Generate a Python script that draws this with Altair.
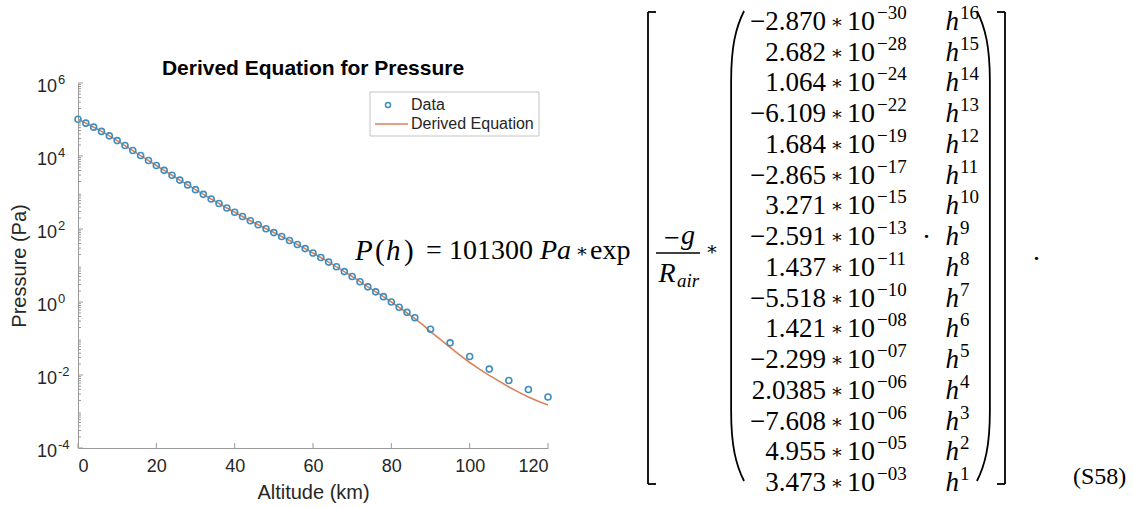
import altair as alt
import pandas as pd

# ---------------- data ----------------
altitude_km = [0, 2, 4, 6, 8, 10, 12, 14, 16, 18, 20, 22, 24, 26, 28, 30, 32, 34, 36, 38,
               40, 42, 44, 46, 48, 50, 52, 54, 56, 58, 60, 62, 64, 66, 68, 70, 72, 74, 76, 78,
               80, 82, 84, 86, 90, 95, 100, 105, 110, 115, 120]
pressure_pa = [101325, 79495, 61640, 47181, 35600, 26436, 19330, 14102, 10287, 7505,
               5475, 4047, 2972, 2188, 1616, 1197, 889, 663, 498, 377,
               287, 220, 169, 131, 102, 79.8, 62.2, 48.3, 37.5, 29.0,
               22.0, 16.6, 12.4, 9.2, 6.8, 5.0, 3.6, 2.6, 1.9, 1.4,
               1.0, 0.72, 0.52, 0.37, 0.18, 0.076, 0.032, 0.0145, 0.0071, 0.0040, 0.0025]

line_km = [0, 2, 4, 6, 8, 10, 12, 14, 16, 18, 20, 22, 24, 26, 28, 30, 32, 34, 36, 38,
           40, 42, 44, 46, 48, 50, 52, 54, 56, 58, 60, 62, 64, 66, 68, 70, 72, 74, 76, 78,
           80, 82, 84, 86, 88, 90, 92.5, 95, 97.5, 100, 102.5, 105, 107.5, 110, 112.5,
           115, 117.5, 120]
line_pa = [101325, 79495, 61640, 47181, 35600, 26436, 19330, 14102, 10287, 7505,
           5475, 4047, 2972, 2188, 1616, 1197, 889, 663, 498, 377,
           287, 220, 169, 131, 102, 79.8, 62.2, 48.3, 37.5, 29.0,
           22.0, 16.6, 12.4, 9.2, 6.8, 5.0, 3.6, 2.6, 1.9, 1.4,
           1.0, 0.71, 0.50, 0.35, 0.24, 0.155, 0.095, 0.057, 0.035, 0.022, 0.0145,
           0.0098, 0.0068, 0.0047, 0.0034, 0.0025, 0.0019, 0.0015]

x_ticks = [0, 20, 40, 60, 80, 100, 120]
y_ticks = [1e-4, 1e-2, 1, 1e2, 1e4, 1e6]
y_tick_exponents = ["-4", "-2", "0", "2", "4", "6"]
y_minor = [m * 10.0 ** k for k in range(-4, 6) for m in range(2, 10)]

coef_mantissa = ["−2.870", "2.682", "1.064", "−6.109", "1.684", "−2.865", "3.271", "−2.591",
                 "1.437", "−5.518", "1.421", "−2.299", "2.0385", "−7.608", "4.955", "3.473"]
coef_exponent = ["−30", "−28", "−24", "−22", "−19", "−17", "−15", "−13",
                 "−11", "−10", "−08", "−07", "−06", "−06", "−05", "−03"]
h_power = ["16", "15", "14", "13", "12", "11", "10", "9", "8", "7", "6", "5", "4", "3", "2", "1"]

# ---------------- layout constants ----------------
W, H = 470, 365
LEFT, TOP = 78, 83
SANS = "Liberation Sans"
SERIF = "Liberation Serif"
BLUE = "#3d8dbe"
ORANGE = "#d9825a"
AXIS_GREY = "#9a9a9a"
TEXT = "#262626"

pts = pd.DataFrame({"km": altitude_km, "pa": pressure_pa})
line = pd.DataFrame({"km": line_km, "pa": line_pa})
xt = pd.DataFrame({"km": x_ticks})
yt = pd.DataFrame({"pa": y_ticks, "exp": y_tick_exponents})
yt["ten"] = "10"
ym = pd.DataFrame({"pa": y_minor})
mat = pd.DataFrame({
    "row": list(range(len(coef_mantissa))),
    "mant": coef_mantissa,
    "exp": coef_exponent,
    "hp": h_power,
})
mat["h"] = "h"
mat["ten"] = "10"
mat["star"] = "∗"

xscale = alt.Scale(domain=[0, 120], nice=False)
yscale = alt.Scale(type="log", domain=[1e-4, 1e6], nice=False)
rowscale = alt.Scale(domain=[0, 15], range=[22 - TOP, 483 - TOP])

x_axis = alt.Axis(values=x_ticks, grid=False, ticks=False, tickSize=0, domainColor=AXIS_GREY,
                  labelFont=SANS, labelFontSize=18, labelColor=TEXT, labelPadding=9,
                  labelAngle=0, title="Altitude (km)", titleFont=SANS, titleFontSize=20,
                  titleFontWeight="normal", titleColor=TEXT, titleY=44, titleBaseline="middle")
y_axis = alt.Axis(values=y_ticks, grid=False, ticks=False, tickSize=0, domainColor=AXIS_GREY,
                  labels=False,
                  title="Pressure (Pa)", titleFont=SANS, titleFontSize=20,
                  titleFontWeight="normal", titleColor=TEXT, titleX=-59, titleY=H / 2,
                  titleAngle=270, titleBaseline="middle", titleAlign="center")

one = alt.Data(values=[{}])


def txt(text, x, y, size=28, style="normal", align="left", font=SERIF, weight="normal",
        baseline="middle", color="black"):
    return alt.Chart(one).mark_text(
        text=text, align=align, baseline=baseline, font=font, fontSize=size,
        fontStyle=style, fontWeight=weight, color=color
    ).encode(x=alt.value(x - LEFT), y=alt.value(y - TOP))


def seg(x1, y1, x2, y2, color="black", width=1.8):
    return alt.Chart(one).mark_rule(color=color, strokeWidth=width).encode(
        x=alt.value(x1 - LEFT), y=alt.value(y1 - TOP),
        x2=alt.value(x2 - LEFT), y2=alt.value(y2 - TOP))


layers = []

# pressure line and data points
layers.append(alt.Chart(line).mark_line(color=ORANGE, strokeWidth=1.6).encode(
    x=alt.X("km:Q", scale=xscale, axis=x_axis),
    y=alt.Y("pa:Q", scale=yscale, axis=None)))
layers.append(alt.Chart(pts).mark_point(shape="circle", filled=False, size=36, strokeWidth=1.6,
                                         color=BLUE, opacity=1).encode(
    x=alt.X("km:Q", scale=xscale),
    y=alt.Y("pa:Q", scale=yscale, axis=y_axis)))

# inward ticks
layers.append(alt.Chart(xt).mark_rule(color=AXIS_GREY, strokeWidth=1).encode(
    x=alt.X("km:Q", scale=xscale), y=alt.value(H), y2=alt.value(H - 5)))
layers.append(alt.Chart(yt).mark_rule(color=AXIS_GREY, strokeWidth=1).encode(
    y=alt.Y("pa:Q", scale=yscale, axis=None), x=alt.value(0), x2=alt.value(5)))
layers.append(alt.Chart(ym).mark_rule(color=AXIS_GREY, strokeWidth=1).encode(
    y=alt.Y("pa:Q", scale=yscale, axis=None), x=alt.value(0), x2=alt.value(3)))

# y tick labels 10^k
layers.append(alt.Chart(yt).mark_text(align="right", baseline="middle", font=SANS, fontSize=18,
                                       color=TEXT, dy=4).encode(
    y=alt.Y("pa:Q", scale=yscale, axis=None), x=alt.value(57 - LEFT), text="ten:N"))
layers.append(alt.Chart(yt).mark_text(align="left", baseline="middle", font=SANS, fontSize=13,
                                       color=TEXT, dy=-3).encode(
    y=alt.Y("pa:Q", scale=yscale, axis=None), x=alt.value(58 - LEFT), text="exp:N"))

# title
layers.append(txt("Derived Equation for Pressure", LEFT + W / 2, 69, size=21, font=SANS,
                  weight="bold", align="center", color="black"))

# legend
layers.append(alt.Chart(one).mark_rect(fill="white", stroke="#c4c4c4", strokeWidth=1).encode(
    x=alt.value(370 - LEFT), x2=alt.value(539 - LEFT), y=alt.value(92 - TOP), y2=alt.value(136 - TOP)))
layers.append(alt.Chart(one).mark_point(shape="circle", filled=False, size=26, strokeWidth=1.5,
                                         color=BLUE, opacity=1).encode(
    x=alt.value(388 - LEFT), y=alt.value(105 - TOP)))
layers.append(seg(375, 124, 408, 124, color=ORANGE, width=1.5))
layers.append(txt("Data", 411, 105, size=16, font=SANS, color=TEXT))
layers.append(txt("Derived Equation", 411, 124, size=16, font=SANS, color=TEXT))

# equation: main line
MID = 251
layers += [
    txt("P", 355, MID, style="italic", size=29),
    txt("(", 375, MID, size=29),
    txt("h", 386, MID, style="italic", size=29),
    txt(")", 404, MID, size=29),
    txt("=", 434, MID, align="center"),
    txt("101300", 449, MID),
    txt("Pa", 540, MID, style="italic"),
    txt("∗", 582, MID, align="center", size=19, font="DejaVu Serif"),
    txt("exp", 590, MID),
]
# fraction
layers += [
    txt("−", 672, 239, align="center"),
    txt("g", 688, 236, align="center", style="italic"),
    seg(656, 253, 700, 253, width=1.5),
    txt("R", 667, 274, align="center", style="italic"),
    txt("air", 688, 281, align="center", style="italic", size=19),
    txt("∗", 712, 249, align="center", size=19, font="DejaVu Serif"),
]
# brackets
layers += [
    seg(648, 12, 648, 484), seg(648, 12, 656, 12), seg(648, 484, 656, 484),
    seg(1005, 12, 1005, 484), seg(997, 12, 1005, 12), seg(997, 484, 1005, 484),
]
# parentheses as custom symbols
LPAREN = ("M 0.03 -1 C -0.005 -0.93 -0.025 -0.85 -0.025 -0.7 L -0.025 0.7 "
          "C -0.025 0.85 -0.005 0.93 0.03 1")
RPAREN = ("M -0.03 -1 C 0.005 -0.93 0.025 -0.85 0.025 -0.7 L 0.025 0.7 "
          "C 0.025 0.85 0.005 0.93 -0.03 1")
layers.append(alt.Chart(one).mark_point(shape=LPAREN, size=470 * 470, filled=False,
                                         strokeWidth=1.8, color="black", opacity=1).encode(
    x=alt.value(737 - LEFT), y=alt.value(246 - TOP)))
layers.append(alt.Chart(one).mark_point(shape=RPAREN, size=470 * 470, filled=False,
                                         strokeWidth=1.8, color="black", opacity=1).encode(
    x=alt.value(984 - LEFT), y=alt.value(246 - TOP)))

# matrix rows
rowy = alt.Y("row:Q", scale=rowscale, axis=None)
layers.append(alt.Chart(mat).mark_text(align="right", baseline="middle", font=SERIF, fontSize=27,
                                        color="black").encode(
    y=rowy, x=alt.value(826 - LEFT), text="mant:N"))
layers.append(alt.Chart(mat).mark_text(align="center", baseline="middle", font="DejaVu Serif",
                                        fontSize=19, color="black").encode(
    y=rowy, x=alt.value(837 - LEFT), text="star:N"))
layers.append(alt.Chart(mat).mark_text(align="left", baseline="middle", font=SERIF, fontSize=28,
                                        color="black").encode(
    y=rowy, x=alt.value(847 - LEFT), text="ten:N"))
layers.append(alt.Chart(mat).mark_text(align="left", baseline="middle", font=SERIF, fontSize=19,
                                        color="black", dy=-9).encode(
    y=rowy, x=alt.value(877 - LEFT), text="exp:N"))
layers.append(alt.Chart(mat).mark_text(align="right", baseline="middle", font=SERIF, fontSize=27,
                                        fontStyle="italic", color="black").encode(
    y=rowy, x=alt.value(959 - LEFT), text="h:N"))
layers.append(alt.Chart(mat).mark_text(align="left", baseline="middle", font=SERIF, fontSize=19,
                                        color="black", dy=-9).encode(
    y=rowy, x=alt.value(960 - LEFT), text="hp:N"))
layers.append(txt(".", 923, 230))
layers.append(txt(".", 1033, 252))
layers.append(txt("(S58)", 1073, 477, size=24))

chart = alt.layer(*layers).resolve_scale(y="independent").properties(
    width=W, height=H,
    autosize=alt.AutoSizeParams(type="none"),
    padding={"left": LEFT, "top": TOP, "right": 1133 - LEFT - W, "bottom": 507 - TOP - H},
    background="white",
).configure_view(stroke=None)

chart.save("out.html", embed_options={"renderer": "svg", "actions": False})
